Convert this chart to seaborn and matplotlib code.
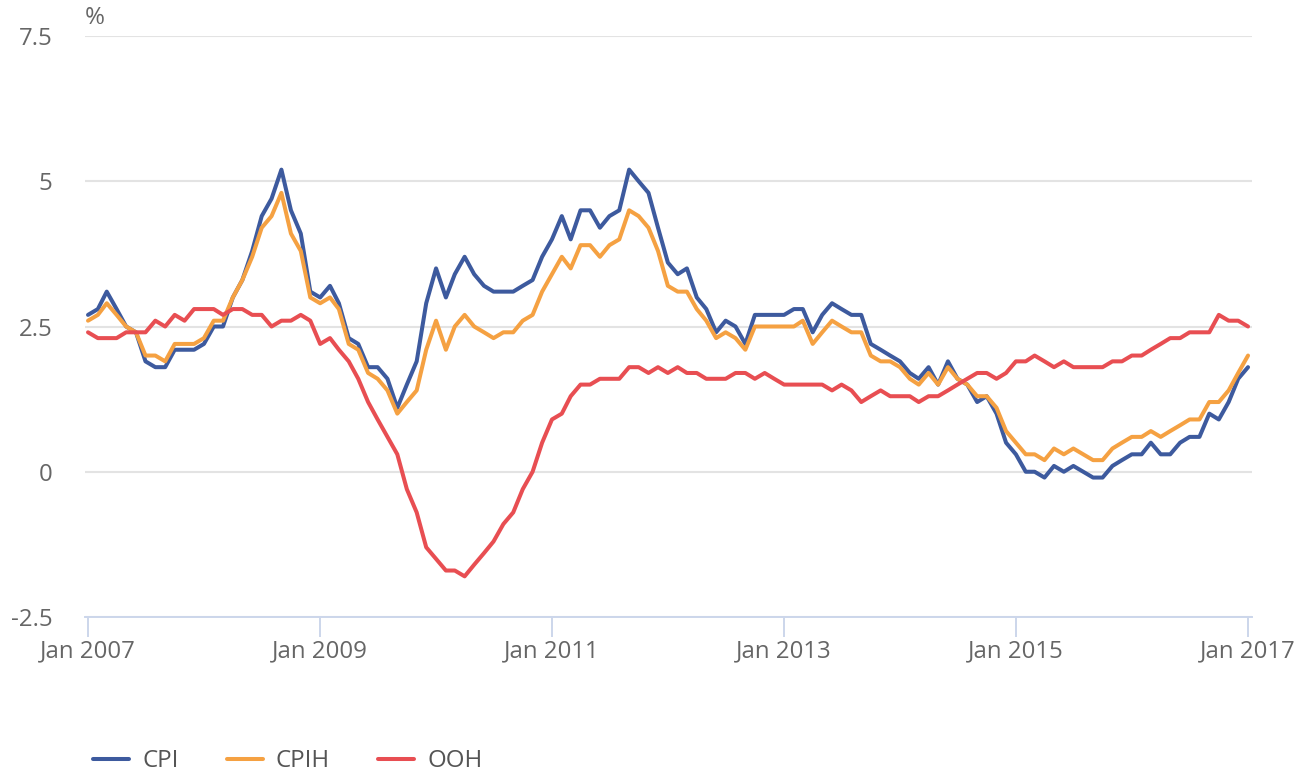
import pandas as pd
import matplotlib.pyplot as plt
import matplotlib.dates as mdates
import seaborn as sns

# 12-month rates, Jan 2007 .. Jan 2017
cpi = [2.7, 2.8, 3.1, 2.8, 2.5, 2.4, 1.9, 1.8, 1.8, 2.1, 2.1, 2.1,
       2.2, 2.5, 2.5, 3.0, 3.3, 3.8, 4.4, 4.7, 5.2, 4.5, 4.1, 3.1,
       3.0, 3.2, 2.9, 2.3, 2.2, 1.8, 1.8, 1.6, 1.1, 1.5, 1.9, 2.9,
       3.5, 3.0, 3.4, 3.7, 3.4, 3.2, 3.1, 3.1, 3.1, 3.2, 3.3, 3.7,
       4.0, 4.4, 4.0, 4.5, 4.5, 4.2, 4.4, 4.5, 5.2, 5.0, 4.8, 4.2,
       3.6, 3.4, 3.5, 3.0, 2.8, 2.4, 2.6, 2.5, 2.2, 2.7, 2.7, 2.7,
       2.7, 2.8, 2.8, 2.4, 2.7, 2.9, 2.8, 2.7, 2.7, 2.2, 2.1, 2.0,
       1.9, 1.7, 1.6, 1.8, 1.5, 1.9, 1.6, 1.5, 1.2, 1.3, 1.0, 0.5,
       0.3, 0.0, 0.0, -0.1, 0.1, 0.0, 0.1, 0.0, -0.1, -0.1, 0.1, 0.2,
       0.3, 0.3, 0.5, 0.3, 0.3, 0.5, 0.6, 0.6, 1.0, 0.9, 1.2, 1.6,
       1.8]

cpih = [2.6, 2.7, 2.9, 2.7, 2.5, 2.4, 2.0, 2.0, 1.9, 2.2, 2.2, 2.2,
        2.3, 2.6, 2.6, 3.0, 3.3, 3.7, 4.2, 4.4, 4.8, 4.1, 3.8, 3.0,
        2.9, 3.0, 2.8, 2.2, 2.1, 1.7, 1.6, 1.4, 1.0, 1.2, 1.4, 2.1,
        2.6, 2.1, 2.5, 2.7, 2.5, 2.4, 2.3, 2.4, 2.4, 2.6, 2.7, 3.1,
        3.4, 3.7, 3.5, 3.9, 3.9, 3.7, 3.9, 4.0, 4.5, 4.4, 4.2, 3.8,
        3.2, 3.1, 3.1, 2.8, 2.6, 2.3, 2.4, 2.3, 2.1, 2.5, 2.5, 2.5,
        2.5, 2.5, 2.6, 2.2, 2.4, 2.6, 2.5, 2.4, 2.4, 2.0, 1.9, 1.9,
        1.8, 1.6, 1.5, 1.7, 1.5, 1.8, 1.6, 1.5, 1.3, 1.3, 1.1, 0.7,
        0.5, 0.3, 0.3, 0.2, 0.4, 0.3, 0.4, 0.3, 0.2, 0.2, 0.4, 0.5,
        0.6, 0.6, 0.7, 0.6, 0.7, 0.8, 0.9, 0.9, 1.2, 1.2, 1.4, 1.7,
        2.0]

ooh = [2.4, 2.3, 2.3, 2.3, 2.4, 2.4, 2.4, 2.6, 2.5, 2.7, 2.6, 2.8,
       2.8, 2.8, 2.7, 2.8, 2.8, 2.7, 2.7, 2.5, 2.6, 2.6, 2.7, 2.6,
       2.2, 2.3, 2.1, 1.9, 1.6, 1.2, 0.9, 0.6, 0.3, -0.3, -0.7, -1.3,
       -1.5, -1.7, -1.7, -1.8, -1.6, -1.4, -1.2, -0.9, -0.7, -0.3, 0.0, 0.5,
       0.9, 1.0, 1.3, 1.5, 1.5, 1.6, 1.6, 1.6, 1.8, 1.8, 1.7, 1.8,
       1.7, 1.8, 1.7, 1.7, 1.6, 1.6, 1.6, 1.7, 1.7, 1.6, 1.7, 1.6,
       1.5, 1.5, 1.5, 1.5, 1.5, 1.4, 1.5, 1.4, 1.2, 1.3, 1.4, 1.3,
       1.3, 1.3, 1.2, 1.3, 1.3, 1.4, 1.5, 1.6, 1.7, 1.7, 1.6, 1.7,
       1.9, 1.9, 2.0, 1.9, 1.8, 1.9, 1.8, 1.8, 1.8, 1.8, 1.9, 1.9,
       2.0, 2.0, 2.1, 2.2, 2.3, 2.3, 2.4, 2.4, 2.4, 2.7, 2.6, 2.6,
       2.5]

series_names = ['CPI', 'CPIH', 'OOH']
colors = {'CPI': '#3d5a9e', 'CPIH': '#f5a142', 'OOH': '#e84e52'}
yticks = [-2.5, 0, 2.5, 5, 7.5]
ytick_labels = ['-2.5', '0', '2.5', '5', '7.5']
xtick_years = [2007, 2009, 2011, 2013, 2015, 2017]

dates = pd.date_range('2007-01-01', periods=len(cpi), freq='MS')
df = pd.DataFrame({'date': dates, 'CPI': cpi, 'CPIH': cpih, 'OOH': ooh})
long_df = df.melt(id_vars='date', value_vars=series_names,
                  var_name='series', value_name='rate')

sns.set_theme(style='white')
plt.rcParams['font.family'] = ['Open Sans', 'DejaVu Sans']

W, H = 1309, 775
fig = plt.figure(figsize=(W / 100, H / 100), dpi=100)
ax = fig.add_axes([85 / W, 1 - 617 / H, (1252 - 85) / W, (617 - 36) / H])

sns.lineplot(data=long_df, x='date', y='rate', hue='series',
             hue_order=series_names, palette=colors, linewidth=2.9,
             ax=ax, legend=True)

ax.set_ylim(-2.5, 7.5)
ax.set_xlim(pd.Timestamp('2007-01-01') - pd.Timedelta(days=9.5),
            pd.Timestamp('2017-01-01') + pd.Timedelta(days=12.5))
ax.set_yticks(yticks)
ax.set_yticklabels(ytick_labels)
ax.set_xticks([pd.Timestamp(f'{y}-01-01') for y in xtick_years])
ax.xaxis.set_major_formatter(mdates.DateFormatter('%b %Y'))
ax.set_xlabel('')
ax.set_ylabel('')

ax.grid(axis='y', color='#e3e3e3', linewidth=1.5)
ax.grid(axis='x', visible=False)
for s in ['top', 'right', 'left']:
    ax.spines[s].set_visible(False)
ax.spines['bottom'].set_color('#ccd6eb')
ax.spines['bottom'].set_linewidth(1.4)
ax.spines['bottom'].set_zorder(5)

ax.tick_params(axis='y', length=0, pad=23.5, labelsize=17.3, labelcolor='#666666')
ax.tick_params(axis='x', length=14.4, width=1.4, color='#ccd6eb', pad=2,
               labelsize=17.3, labelcolor='#666666', direction='out')
ax.xaxis.set_ticks_position('bottom')

fig.text(95 / W, 1 - 18 / H, '%', ha='center', va='center',
         fontsize=17.3, color='#666666')

handles, labels = ax.get_legend_handles_labels()
ax.get_legend().remove()
leg = fig.legend(handles, labels, loc='center left',
                 bbox_to_anchor=(93 / W, 1 - 761 / H), ncol=3, frameon=False,
                 fontsize=17.3, handlelength=1.5, handletextpad=0.55,
                 columnspacing=2.0, borderpad=0, borderaxespad=0)
for t in leg.get_texts():
    t.set_color('#555555')
for lh in leg.get_lines():
    lh.set_linewidth(2.9)

fig.savefig('out.png', dpi=100)
